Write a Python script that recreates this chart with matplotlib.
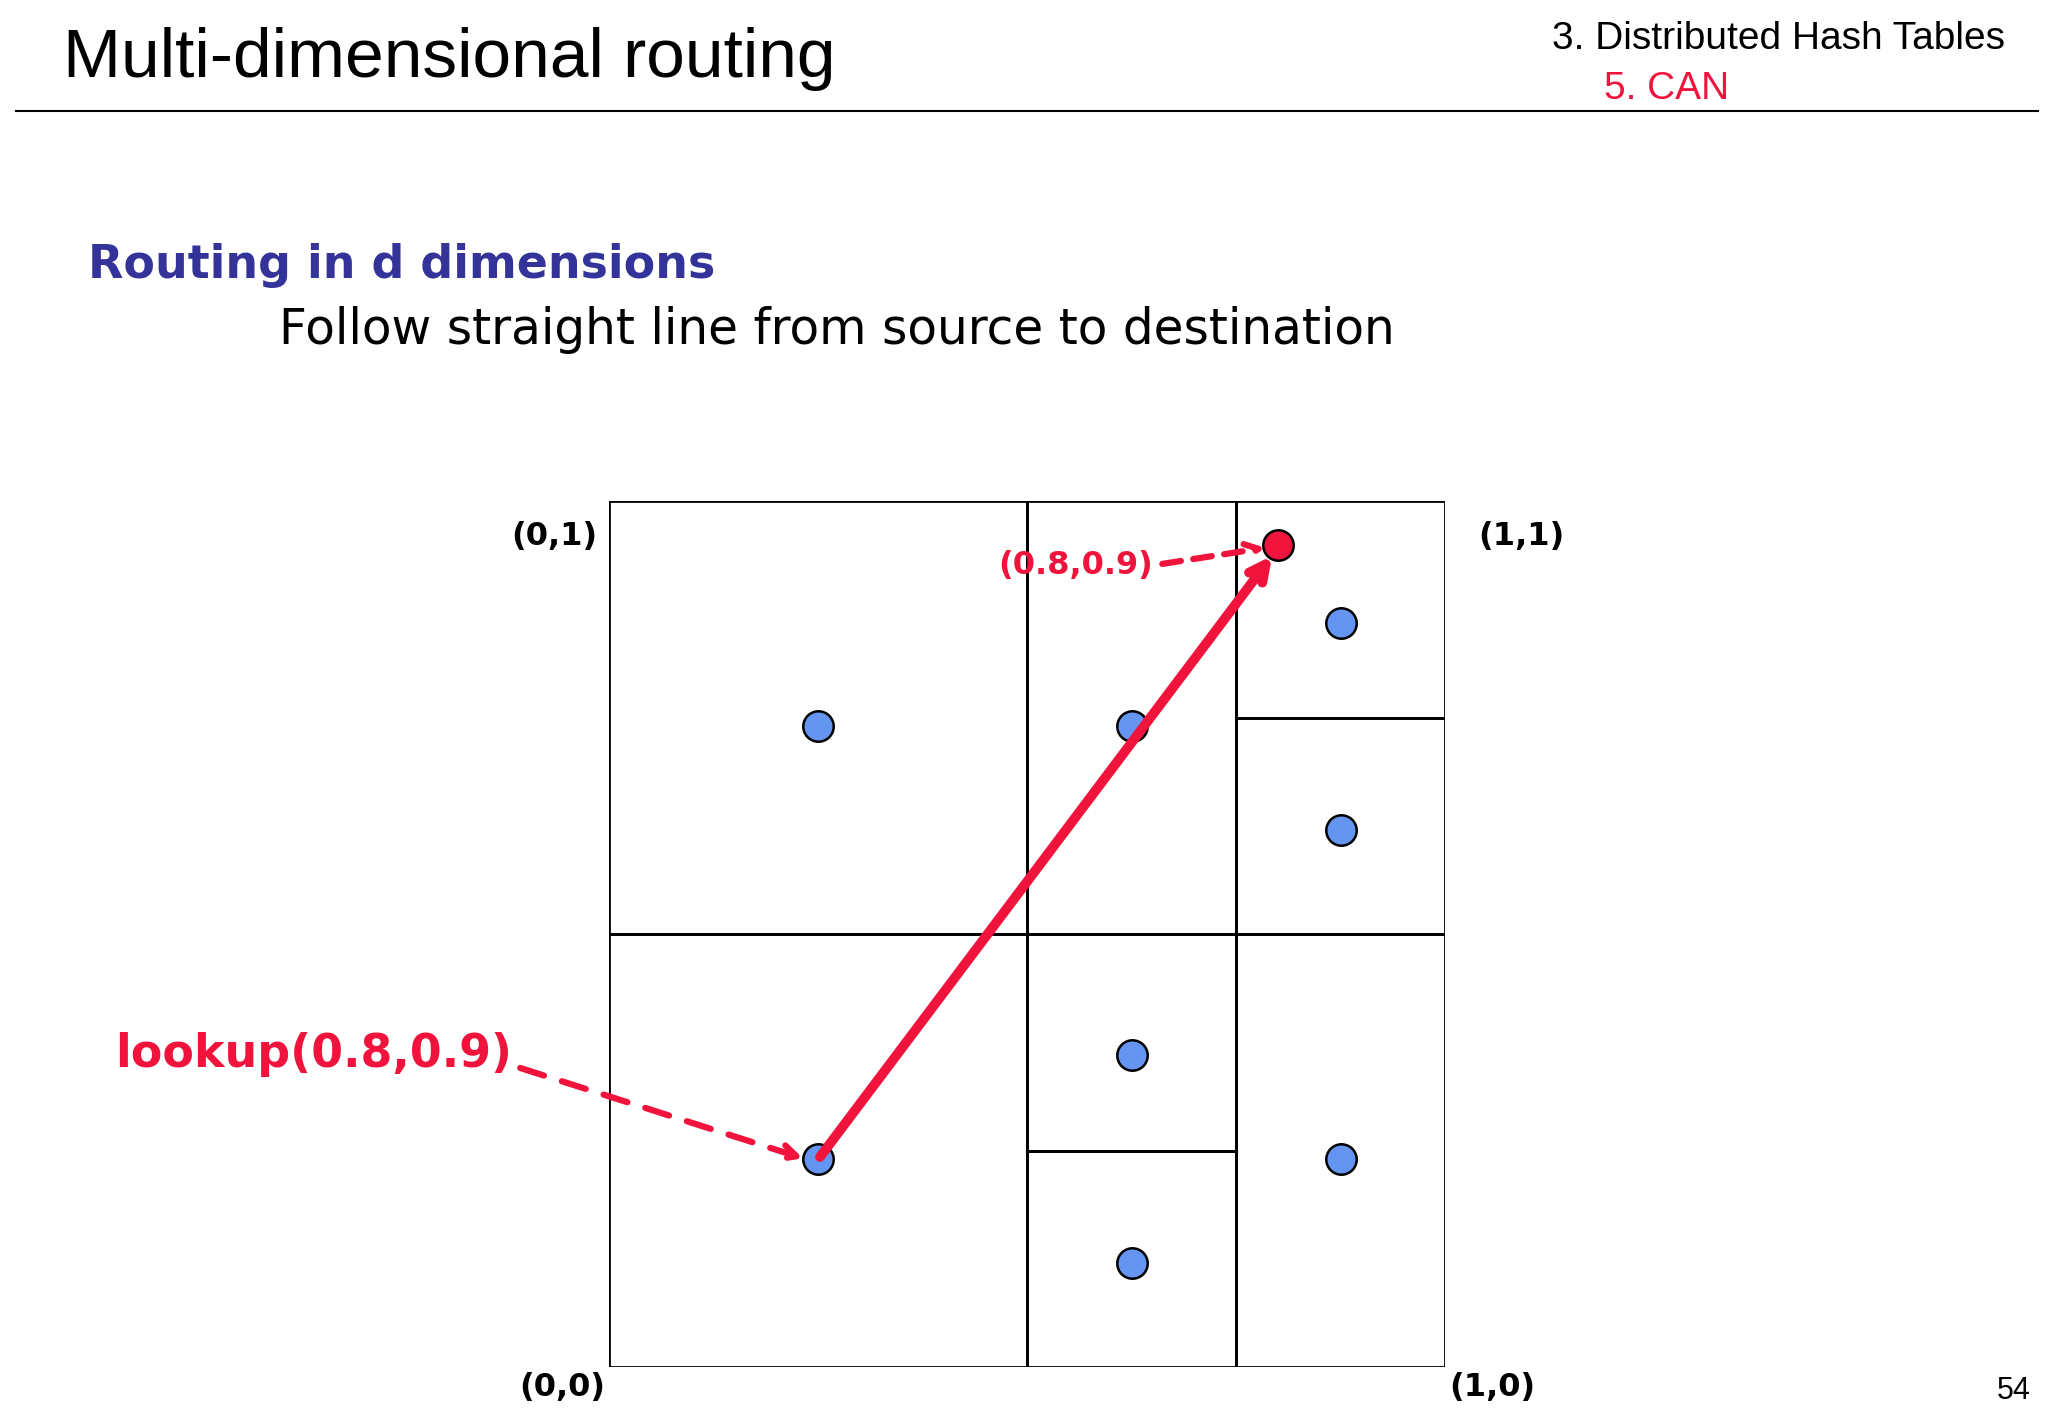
import matplotlib.pyplot as plt

W, H = 1563, 1083  # layout reference grid (px of the slide)

# zone boundaries in CAN space: (x0, y0, x1, y1)
zones = [(0, 0.5, 0.5, 1), (0, 0, 0.5, 0.5), (0.5, 0.5, 0.75, 1),
         (0.5, 0.25, 0.75, 0.5), (0.5, 0, 0.75, 0.25),
         (0.75, 0.75, 1, 1), (0.75, 0.5, 1, 0.75), (0.75, 0, 1, 0.5)]
node_x = [0.25, 0.625, 0.875, 0.875, 0.625, 0.875, 0.625, 0.25]
node_y = [0.74, 0.74, 0.86, 0.62, 0.36, 0.24, 0.12, 0.24]
src = (0.25, 0.24)
dst = (0.8, 0.95)

red = '#f0143c'
blue = '#6495f0'
fig = plt.figure(figsize=(20.48, 14.18), dpi=100)

def fx(px): return px / W
def fy(py): return 1 - py / H

fig.text(fx(48), fy(45), 'Multi-dimensional routing', fontsize=50, va='center', family='Liberation Sans')
fig.text(fx(1530), fy(30), '3. Distributed Hash Tables', fontsize=28, ha='right', va='center', family='Liberation Sans')
fig.text(fx(1224), fy(68), '5. CAN', fontsize=28, ha='left', va='center', color=red, family='Liberation Sans')
fig.add_artist(plt.Line2D([fx(12), fx(1555)], [fy(85), fy(85)], color='black', lw=1.5))
fig.text(fx(67), fy(203), 'Routing in d dimensions', fontsize=33, color='#333399', weight='bold', va='center')
fig.text(fx(213), fy(252), 'Follow straight line from source to destination', fontsize=35, va='center')
fig.text(fx(1550), fy(1062), '54', fontsize=22, ha='right', va='center', family='Liberation Sans')

ax = fig.add_axes([fx(465), fy(1044), fx(1103) - fx(465), fy(383) - fy(1044)])
ax.set_xlim(0, 1)
ax.set_ylim(0, 1)
ax.axis('off')
for x0, y0, x1, y1 in zones:
    ax.add_patch(plt.Rectangle((x0, y0), x1 - x0, y1 - y0, fill=False, ec='black', lw=2))
ax.scatter(node_x, node_y, s=480, c=blue, ec='black', lw=1.8, zorder=3)
ax.scatter([dst[0]], [dst[1]], s=480, c=red, ec='black', lw=1.8, zorder=3)
ax.annotate('', xy=(dst[0] - 0.005, dst[1] - 0.01), xytext=src,
            arrowprops=dict(arrowstyle='->,head_length=1.2,head_width=0.6', color=red, lw=7), zorder=4)

for txt, x, y in [('(0,1)', 456, 410), ('(1,1)', 1128, 410), ('(0,0)', 462, 1060), ('(1,0)', 1106, 1060)]:
    fig.text(fx(x), fy(y), txt, fontsize=23, weight='bold', va='center',
             ha='right' if x < 470 else 'left')

fig.text(fx(88), fy(805), 'lookup(0.8,0.9)', fontsize=33, weight='bold', color=red, va='center')
ax.annotate('', xy=(src[0] - 0.015, src[1]), xytext=((395 - 465) / 638, (1044 - 815) / 661),
            arrowprops=dict(arrowstyle='->,head_length=1.0,head_width=0.5', color=red, lw=4.5, ls=(0, (4, 3))),
            annotation_clip=False)
fig.text(fx(880), fy(432), '(0.8,0.9)', fontsize=23, weight='bold', color=red, va='center', ha='right')
ax.annotate('', xy=(dst[0] - 0.012, dst[1] - 0.003), xytext=((885 - 465) / 638, (1044 - 431) / 661),
            arrowprops=dict(arrowstyle='->,head_length=1.0,head_width=0.5', color=red, lw=4.5, ls=(0, (3, 2))))

fig.savefig('out.png', dpi=100)
